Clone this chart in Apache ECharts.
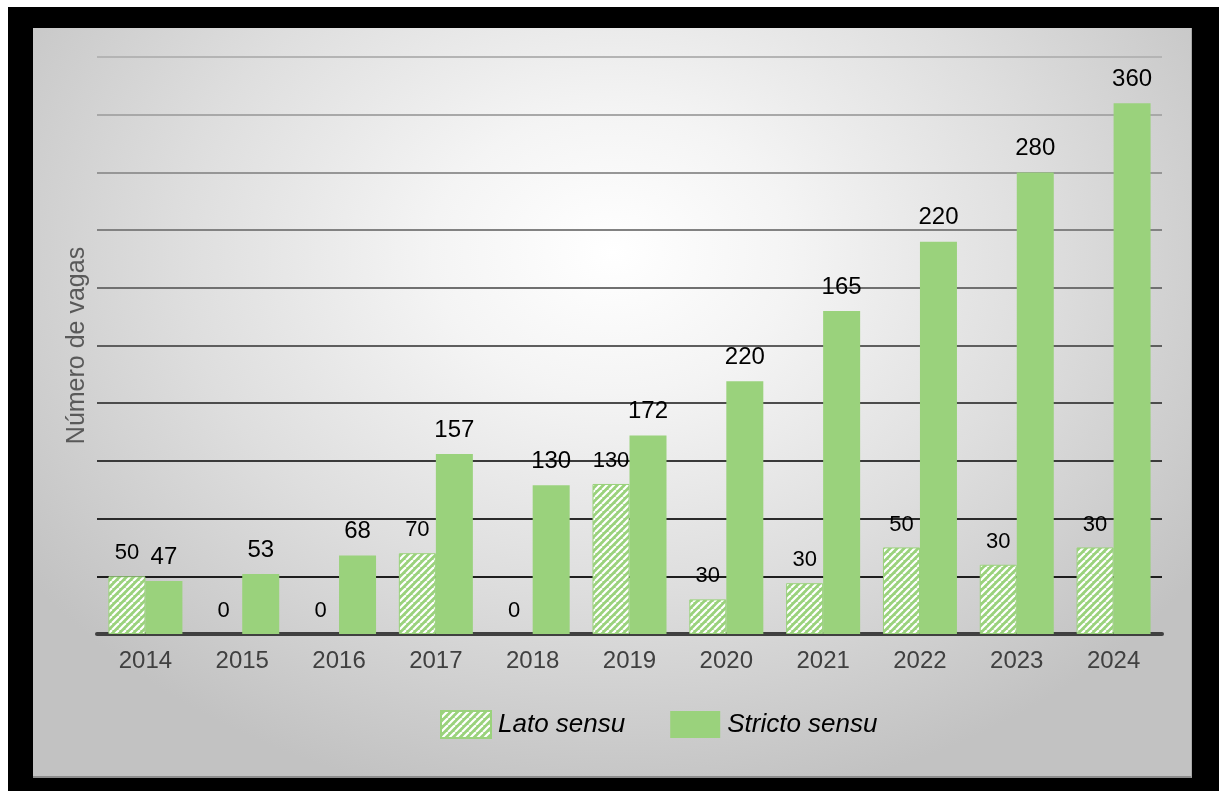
<!DOCTYPE html>
<html>
<head>
<meta charset="utf-8">
<script src="https://cdn.jsdelivr.net/npm/echarts@6/dist/echarts.min.js"></script>
<style>
  html, body { margin: 0; padding: 0; background: #ffffff; width: 1219px; height: 791px; overflow: hidden; }
  #frame { position: absolute; left: 8px; top: 7px; width: 1211px; height: 784px; background: #000; }
  #panel { position: absolute; left: 33px; top: 28px; width: 1159px; height: 750px;
    background: radial-gradient(ellipse 62% 75% at 50% 30%, #ffffff 0%, #f4f4f4 25%, #dedede 60%, #c2c2c2 100%);
    border-bottom: 2px solid #8c8c8c; border-right: 1px solid #a8a8a8; box-sizing: border-box; }
  #chart { position: absolute; left: 0; top: 0; width: 1219px; height: 791px; }
</style>
</head>
<body>
<div id="frame"></div>
<div id="panel"></div>
<div id="chart"></div>
<script>
// ---- data ----
const years = ['2014','2015','2016','2017','2018','2019','2020','2021','2022','2023','2024'];
// bar heights as drawn
const latoValues    = [50, 0, 0, 70, 0, 130, 30, 44, 75, 60, 75];
const strictoValues = [46, 52, 68, 156, 129, 172, 219, 280, 340, 400, 460];
// data labels as printed on the chart
const latoLabels    = ['50','0','0','70','0','130','30','30','50','30','30'];
const strictoLabels = ['47','53','68','157','130','172','220','165','220','280','360'];
const seriesNames = ['Lato sensu', 'Stricto sensu'];
const yAxisName = 'Número de vagas';

// ---- hatch pattern ----
const GREEN = '#9AD27C';
function makeHatch() {
  const s = 7;
  const c = document.createElement('canvas');
  c.width = s; c.height = s;
  const ctx = c.getContext('2d');
  ctx.fillStyle = GREEN;
  ctx.fillRect(0, 0, s, s);
  ctx.strokeStyle = '#ffffff';
  ctx.lineWidth = 2.2;
  for (let k = -s; k <= s; k += s) {
    ctx.beginPath();
    ctx.moveTo(k, s);
    ctx.lineTo(k + s, 0);
    ctx.stroke();
  }
  return c;
}
const hatch = { image: makeHatch(), repeat: 'repeat' };
const FONT = 'Liberation Sans, Arial, sans-serif';

const chart = echarts.init(document.getElementById('chart'), null, { renderer: 'canvas' });
const gridColors = ['#222','#1e1e1e','#2a2a2a','#3a3a3a','#4c4c4c','#5e5e5e','#707070','#828282','#969696','#a8a8a8','#b4b4b4'];

chart.setOption({
  backgroundColor: 'transparent',
  animation: false,
  grid: { left: 97, right: 57, top: 57, bottom: 157, containLabel: false },
  legend: {
    left: 440, top: 710, padding: 0,
    itemWidth: 50, itemHeight: 27, itemGap: 45,
    icon: 'rect',
    textStyle: { fontFamily: FONT, fontStyle: 'italic', fontSize: 26, color: '#000', padding: [0,0,0,2] },
    data: seriesNames
  },
  xAxis: {
    type: 'category',
    data: years,
    axisLine: { show: true, lineStyle: { color: '#404040', width: 4 } },
    axisTick: { show: false },
    axisLabel: { margin: 15, fontFamily: FONT, fontSize: 24, color: '#404040' }
  },
  yAxis: {
    type: 'value', min: 0, max: 500, interval: 50,
    name: yAxisName, nameLocation: 'middle', nameGap: 7, nameRotate: 90,
    nameTextStyle: { fontFamily: FONT, fontSize: 25, color: '#595959' },
    axisLine: { show: false }, axisTick: { show: false }, axisLabel: { show: false },
    splitLine: { show: true, lineStyle: { color: gridColors, width: 2 } }
  },
  series: [
    {
      name: seriesNames[0], type: 'bar',
      data: latoValues.map(v => ({ value: v, itemStyle: { borderWidth: v === 0 ? 0 : 1 } })),
      barWidth: 37, barGap: '0%',
      itemStyle: { color: hatch, borderColor: GREEN, borderWidth: 1 },
      label: { show: true, position: 'top', distance: 12, fontFamily: FONT, fontSize: 22, color: '#000',
        formatter: p => latoLabels[p.dataIndex] }
    },
    {
      name: seriesNames[1], type: 'bar', data: strictoValues,
      barWidth: 37,
      itemStyle: { color: GREEN },
      label: { show: true, position: 'top', distance: 12, fontFamily: FONT, fontSize: 24, color: '#000',
        formatter: p => strictoLabels[p.dataIndex] }
    }
  ]
});
</script>
</body>
</html>
